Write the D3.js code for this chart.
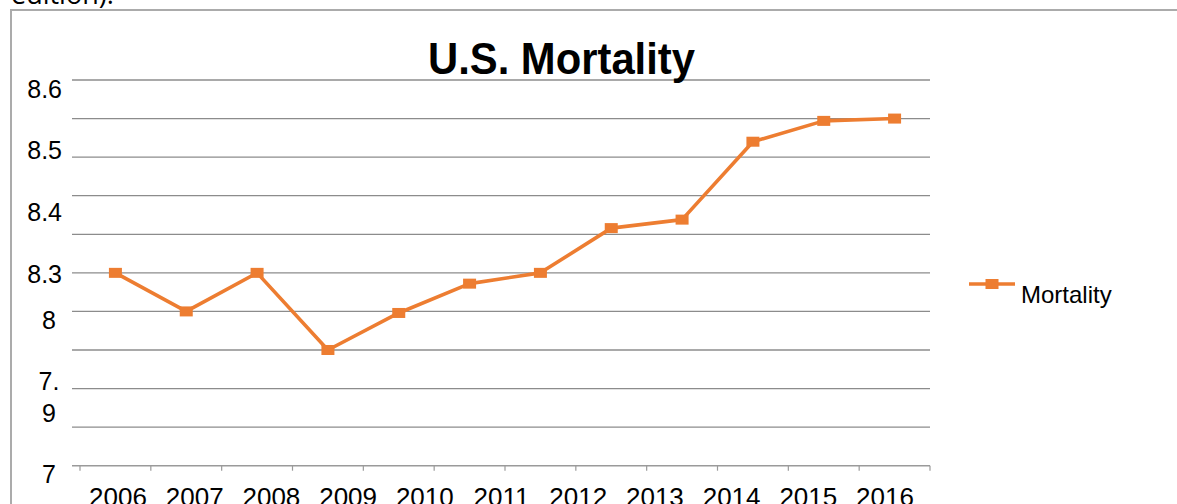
<!DOCTYPE html>
<html>
<head>
<meta charset="utf-8">
<script src="https://cdn.jsdelivr.net/npm/d3@7"></script>
<style>
  html, body { margin: 0; padding: 0; background: #fff; overflow: hidden; }
  svg { display: block; font-family: "Liberation Sans", Arial, sans-serif; }
</style>
</head>
<body>
<svg id="chart" width="1177" height="504"></svg>
<script>
// ---- data ----
const seriesName = "Mortality";
const values = [8.35, 8.30, 8.35, 8.25, 8.298, 8.336, 8.35, 8.408, 8.419, 8.52, 8.547, 8.55];
const yearLabels = ["2006", "2007", "2008", "2009", "2010", "2011", "2012", "2013", "2014", "2015", "2016"];
const yTickLabels = ["8.6", "8.5", "8.4", "8.3", "8", "7.\n9", "7"];
const yTickLabelAt = [8.588, 8.509, 8.429, 8.349, 8.289, 8.189, 8.089];
const yDomain = [8.1, 8.6];
const yGridStep = 0.05;
const titleText = "U.S. Mortality";

// ---- layout ----
const W = 1177, H = 504;
const plot = { left: 80, right: 930, top: 80, bottom: 465.7 };
const orange = "#ED7D31";
const gridColor = "#8c8c8c";

const svg = d3.select("#chart");

// cropped text above the frame
svg.append("text").attr("x", 11).attr("y", 4)
  .attr("font-family", "'Open Sans', sans-serif").attr("font-size", 27)
  .attr("fill", "#000").text("edition).");

// frame
svg.append("rect").attr("x", 11).attr("y", 10).attr("width", W + 10).attr("height", H + 10)
  .attr("fill", "#fff").attr("stroke", "#ababab").attr("stroke-width", 2);

const x = d3.scaleLinear().domain([0, values.length]).range([plot.left, plot.right]);
const y = d3.scaleLinear().domain(yDomain).range([plot.bottom, plot.top]);
const xl = d3.scaleLinear().domain([0, yearLabels.length - 1]).range([118, 885]);

// gridlines
const nGrid = Math.round((yDomain[1] - yDomain[0]) / yGridStep);
const gridVals = d3.range(1, nGrid + 1).map(i => yDomain[0] + i * yGridStep);
svg.append("g").selectAll("line").data(gridVals).join("line")
  .attr("x1", plot.left - 8).attr("x2", plot.right)
  .attr("y1", d => y(d)).attr("y2", d => y(d))
  .attr("stroke", gridColor).attr("stroke-width", 1.3);

// x axis line + ticks
svg.append("line").attr("x1", plot.left - 8).attr("x2", plot.right)
  .attr("y1", y(yDomain[0])).attr("y2", y(yDomain[0]))
  .attr("stroke", "#9a9a9a").attr("stroke-width", 1.5);
svg.append("g").selectAll("line").data(d3.range(0, values.length + 1)).join("line")
  .attr("x1", d => x(d)).attr("x2", d => x(d))
  .attr("y1", y(yDomain[0])).attr("y2", y(yDomain[0]) + 5)
  .attr("stroke", "#9a9a9a").attr("stroke-width", 1.2);

// year labels
svg.append("g").selectAll("text").data(yearLabels).join("text")
  .attr("x", (d, i) => xl(i)).attr("y", 506)
  .attr("text-anchor", "middle").attr("font-size", 26).attr("fill", "#000")
  .text(d => d);

// y tick labels
const yl = svg.append("g").selectAll("text").data(yTickLabels).join("text")
  .attr("font-size", 25).attr("fill", "#000")
  .attr("text-anchor", d => d.length >= 3 && !d.includes("\n") ? "end" : "middle")
  .attr("x", d => d.length >= 3 && !d.includes("\n") ? 62 : 49)
  .attr("y", (d, i) => y(yTickLabelAt[i]));
yl.each(function(d) {
  const lines = d.split("\n");
  const t = d3.select(this);
  const lh = 32;
  const startDy = 9 - (lines.length - 1) * lh / 2;
  lines.forEach((ln, j) => {
    t.append("tspan").attr("x", t.attr("x"))
      .attr("dy", j === 0 ? startDy : lh).text(ln);
  });
});

// series line
const line = d3.line().x((d, i) => x(i + 0.5)).y(d => y(d));
svg.append("path").datum(values).attr("d", line)
  .attr("fill", "none").attr("stroke", orange).attr("stroke-width", 3.6)
  .attr("stroke-linejoin", "round");
svg.append("g").selectAll("rect").data(values).join("rect")
  .attr("x", (d, i) => x(i + 0.5) - 6.5).attr("y", d => y(d) - 5)
  .attr("width", 13).attr("height", 10).attr("fill", orange);

// title
svg.append("text").attr("x", 561.5).attr("y", 73.5)
  .attr("text-anchor", "middle").attr("font-size", 45).attr("font-weight", "bold")
  .attr("textLength", 267).attr("lengthAdjust", "spacingAndGlyphs")
  .attr("fill", "#000").text(titleText);

// legend
const lg = svg.append("g");
lg.append("line").attr("x1", 969).attr("x2", 1015).attr("y1", 284).attr("y2", 284)
  .attr("stroke", orange).attr("stroke-width", 3.6);
lg.append("rect").attr("x", 985.5).attr("y", 279).attr("width", 13).attr("height", 10).attr("fill", orange);
lg.append("text").attr("x", 1021).attr("y", 303).attr("font-size", 24).attr("fill", "#000").text(seriesName);
</script>
</body>
</html>
